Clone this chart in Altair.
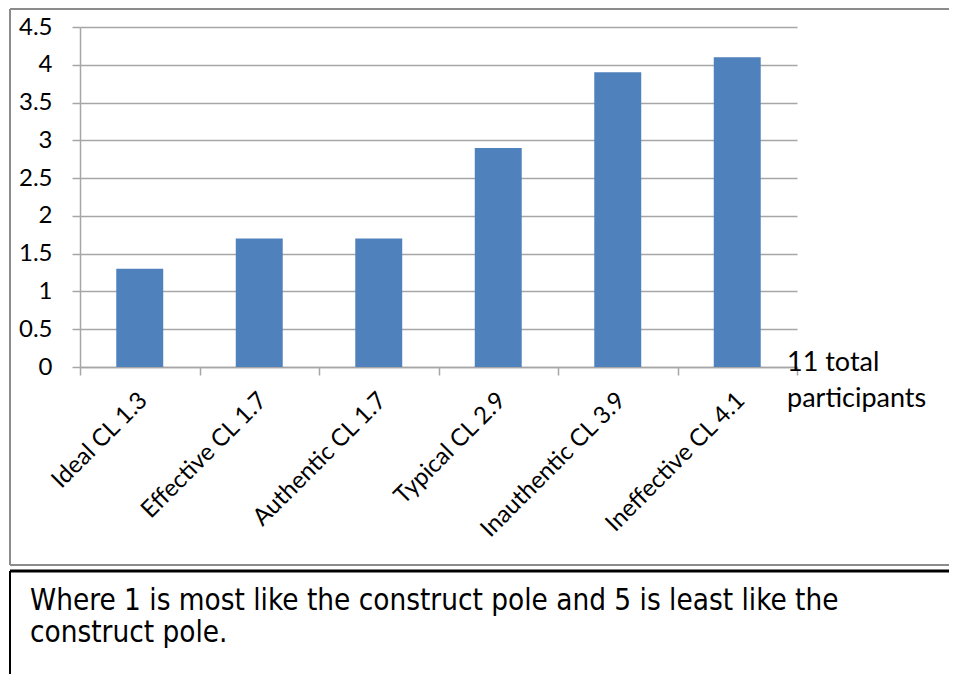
import altair as alt
import pandas as pd

categories = ["Ideal CL 1.3", "Effective CL 1.7", "Authentic CL 1.7",
              "Typical CL 2.9", "Inauthentic CL 3.9", "Ineffective CL 4.1"]
values = [1.3, 1.7, 1.7, 2.9, 3.9, 4.1]
y_ticks = [0, 0.5, 1, 1.5, 2, 2.5, 3, 3.5, 4, 4.5]
note_lines = ["11 total", "participants"]
footnote_lines = ["Where 1 is most like the construct pole and 5 is least like the",
                  "construct pole."]

df = pd.DataFrame({"category": categories, "value": values})
one = pd.DataFrame({"k": [0]})
note_df = pd.DataFrame({"t": ["\n".join(note_lines)]})
foot_df = pd.DataFrame({"t": ["\n".join(footnote_lines)]})

GRID = "#a6a6a6"
BOX = "#8c8c8c"

bars = alt.Chart(df).mark_bar(color="#4f81bd", width=alt.RelativeBandSize(0.393)).encode(
    x=alt.X("category:N", sort=categories,
            scale=alt.Scale(paddingInner=0, paddingOuter=0),
            axis=alt.Axis(title=None, labelAngle=-45, labelAlign="right",
                          labelBaseline="top", labelFont="Lato", labelFontSize=24,
                          labelColor="black", labelLimit=0, domainColor=GRID,
                          domainWidth=1.5, tickColor=GRID, tickWidth=1.5, tickSize=8,
                          tickBand="extent", labelPadding=13, labelOffset=-5,
                          grid=False)),
    y=alt.Y("value:Q", scale=alt.Scale(domain=[0, 4.5], nice=False),
            axis=alt.Axis(title=None, values=y_ticks, format="~g",
                          labelFont="Lato", labelFontSize=24, labelColor="black",
                          labelPadding=20, domainColor=GRID, domainWidth=1.5,
                          tickColor=GRID, tickWidth=1.5, tickSize=8,
                          gridColor=GRID, gridWidth=1.5)),
)

box_top = alt.Chart(one).mark_rule(color=BOX, strokeWidth=2).encode(
    x=alt.value(-70), x2=alt.value(880), y=alt.value(-18))
box_left = alt.Chart(one).mark_rule(color=BOX, strokeWidth=2).encode(
    x=alt.value(-70), y=alt.value(-18), y2=alt.value(538))
box_bottom = alt.Chart(one).mark_rule(color=BOX, strokeWidth=2).encode(
    x=alt.value(-70), x2=alt.value(880), y=alt.value(538))

tb_top = alt.Chart(one).mark_rule(color="black", strokeWidth=3).encode(
    x=alt.value(-70), x2=alt.value(880), y=alt.value(544))
tb_left = alt.Chart(one).mark_rule(color="black", strokeWidth=2).encode(
    x=alt.value(-70), y=alt.value(544), y2=alt.value(700))

note = alt.Chart(note_df).mark_text(align="left", baseline="alphabetic",
                                    font="Lato", fontSize=27, color="black",
                                    lineBreak="\n", lineHeight=36).encode(
    x=alt.value(707), y=alt.value(344), text="t:N")

foot = alt.Chart(foot_df).mark_text(align="left", baseline="alphabetic",
                                    font="DejaVu Sans Condensed", fontSize=29.4,
                                    color="black", lineBreak="\n",
                                    lineHeight=32).encode(
    x=alt.value(-50), y=alt.value(583), text="t:N")

chart = alt.layer(box_top, box_left, box_bottom, bars, note,
                  tb_top, tb_left, foot).properties(
    width=717, height=340,
    autosize=alt.AutoSizeParams(type="none"),
    padding={"left": 72, "top": 19, "right": 152, "bottom": 307},
    background="white",
).configure_view(strokeWidth=0)

chart.save("out.html", embed_options={"renderer": "svg", "actions": False})
